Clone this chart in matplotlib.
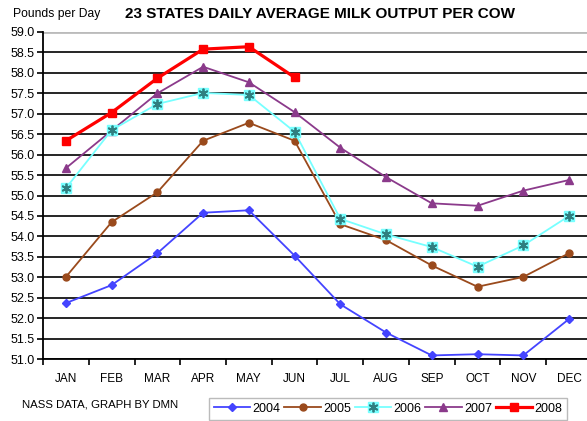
import matplotlib.pyplot as plt

plt.rcParams['font.family'] = ['Liberation Sans', 'DejaVu Sans']

# data
months = ["JAN", "FEB", "MAR", "APR", "MAY", "JUN", "JUL", "AUG", "SEP", "OCT", "NOV", "DEC"]
y2004 = [52.37, 52.81, 53.59, 54.58, 54.64, 53.53, 52.34, 51.65, 51.09, 51.12, 51.09, 51.98]
y2005 = [53.01, 54.35, 55.08, 56.34, 56.78, 56.34, 54.30, 53.91, 53.29, 52.77, 53.01, 53.59]
y2006 = [55.18, 56.60, 57.24, 57.51, 57.46, 56.56, 54.43, 54.05, 53.74, 53.26, 53.78, 54.50]
y2007 = [55.67, 56.59, 57.50, 58.15, 57.77, 57.04, 56.17, 55.45, 54.81, 54.75, 55.12, 55.38]
y2008 = [56.34, 57.03, 57.87, 58.58, 58.64, 57.89]
yticks = [51.0 + 0.5 * i for i in range(17)]

fig = plt.figure(figsize=(5.87, 4.21), dpi=100)
ax = fig.add_axes([0.0733, 0.147, 0.935, 0.777])

x = list(range(12))

# grid lines
for t in yticks[:-1]:
    ax.axhline(t, color='black', lw=1.2, zorder=1)
ax.axhline(59.0, color='#BBBBBB', lw=2, zorder=1)

h04, = ax.plot(x, y2004, color='#4444FF', lw=1.3, marker='D', ms=4.5, zorder=3)
h05, = ax.plot(x, y2005, color='#9A4A1C', lw=1.3, marker='o', ms=5, zorder=3)
h06a, = ax.plot(x, y2006, color='#77FFFF', lw=1.3, marker='s', ms=7,
                markeredgecolor='#77FFFF', zorder=4)
h06b, = ax.plot(x, y2006, ls='none', marker=(6, 2, 0), ms=7, color='#2F7F80',
                markeredgewidth=1.3, zorder=5)
h07, = ax.plot(x, y2007, color='#8B3A8B', lw=1.3, marker='^', ms=6, zorder=3)
h08, = ax.plot(x[:6], y2008, color='#FF0000', lw=2.3, marker='s', ms=6, zorder=6)

ax.set_xlim(-0.5, 11.5)
ax.set_ylim(51.0, 59.0)
ax.set_yticks(yticks)
ax.set_yticklabels([f"{t:.1f}" for t in yticks], fontsize=9)
ax.set_xticks(x)
ax.set_xticklabels(months, fontsize=8.5)
ax.tick_params(axis='x', length=0, pad=10)
ax.set_xticks([i - 0.5 for i in range(13)], minor=True)
ax.tick_params(axis='x', which='minor', length=4, width=1.2, direction='out')
ax.tick_params(axis='y', length=4, width=1.2, direction='out', pad=2)
for s in ['top', 'right']:
    ax.spines[s].set_visible(False)
ax.spines['left'].set_linewidth(1.3)
ax.spines['bottom'].set_linewidth(1.3)

fig.text(0.022, 0.967, "Pounds per Day", fontsize=8.7, va='center')
fig.text(0.213, 0.967, "23 STATES DAILY AVERAGE MILK OUTPUT PER COW",
         fontsize=11, fontweight='bold', va='center')
fig.text(0.037, 0.04, "NASS DATA, GRAPH BY DMN", fontsize=8.2, va='center')

handles = [h04, h05, (h06a, h06b), h07, h08]
labels = ["2004", "2005", "2006", "2007", "2008"]
leg = fig.legend(handles, labels, ncol=5, loc='upper left',
                 bbox_to_anchor=(0.356, 0.055), borderaxespad=0,
                 fontsize=9, frameon=True,
                 fancybox=False, edgecolor='#AAAAAA', handlelength=2.9,
                 columnspacing=0.3, handletextpad=0.2, borderpad=0.4)

fig.savefig("out.png", dpi=100)
